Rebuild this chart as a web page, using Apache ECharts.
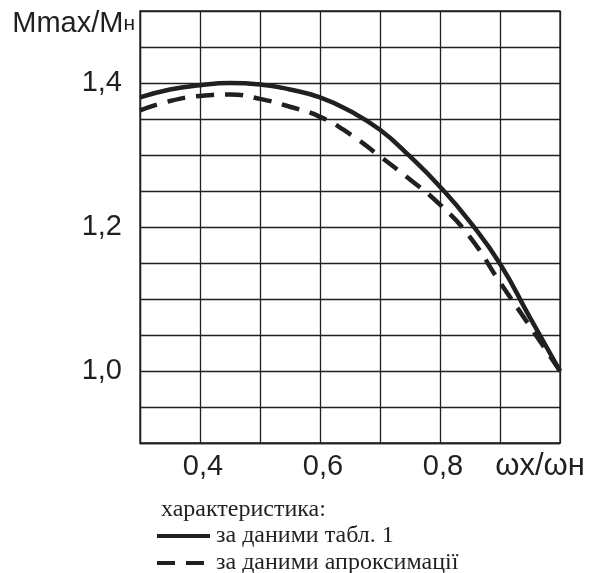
<!DOCTYPE html>
<html>
<head>
<meta charset="utf-8">
<script src="https://cdn.jsdelivr.net/npm/echarts@6/dist/echarts.min.js"></script>
<style>
  html, body { margin: 0; padding: 0; background: #fff; }
  #chart { width: 592px; height: 573px; }
</style>
</head>
<body>
<div id="chart"></div>
<script>
// значення
var xValues = [0.30, 0.35, 0.40, 0.45, 0.50, 0.55, 0.60, 0.65, 0.70, 0.75, 0.80, 0.85, 0.90, 0.95, 1.00];
var tableValues = [1.380, 1.391, 1.397, 1.400, 1.398, 1.391, 1.380, 1.361, 1.335, 1.298, 1.256, 1.207, 1.149, 1.074, 1.000];
var approxValues = [1.362, 1.375, 1.382, 1.384, 1.378, 1.367, 1.353, 1.329, 1.298, 1.266, 1.231, 1.186, 1.123, 1.062, 1.000];
var xTickLabels = [0.4, 0.6, 0.8];
var yTickLabels = [1.0, 1.2, 1.4];
var seriesNames = ['за даними табл. 1', 'за даними апроксимації'];
var legendTitle = 'характеристика:';

var ink = '#231f20';
var sans = '"Liberation Sans", Arial, sans-serif';
var serif = '"Liberation Serif", "Times New Roman", serif';

function pairs(ys) {
    var res = [];
    for (var i = 0; i < xValues.length; i++) res.push([xValues[i], ys[i]]);
    return res;
}

function tick_formatter(list) {
    // показуємо тільки потрібні підписи, з комою
    return function (v) {
        for (var i = 0; i < list.length; i++) {
            if (Math.abs(list[i] - v) < 1e-6) return list[i].toFixed(1).replace('.', ',');
        }
        return '';
    };
}

var gridLine = { show: true, lineStyle: { color: ink, width: 1.3 } };

var option = {
    backgroundColor: '#fff',
    animation: false,
    title: {
        text: legendTitle,
        left: 161,
        top: 498,
        padding: 0,
        textStyle: { fontFamily: serif, fontSize: 24, fontWeight: 'normal', color: ink }
    },
    legend: {
        orient: 'vertical',
        left: 155,
        top: 524,
        height: 60,
        padding: 0,
        itemWidth: 53,
        itemHeight: 18,
        itemGap: 3,
        data: seriesNames,
        itemStyle: { opacity: 0 },
        lineStyle: { width: 4 },
        textStyle: { fontFamily: serif, fontSize: 24, lineHeight: 22, color: ink, padding: [0, 0, 0, 1] }
    },
    grid: {
        left: 140, right: 32, top: 11, bottom: 130,
        show: true, borderColor: ink, borderWidth: 1.3
    },
    xAxis: {
        type: 'value',
        min: 0.3, max: 1.0, interval: 0.1,
        name: 'ωx/ωн',
        nameLocation: 'end',
        nameGap: -20,
        nameTextStyle: { fontFamily: sans, fontSize: 31, color: ink, align: 'center', verticalAlign: 'top', padding: [8, 0, 0, 0] },
        axisLine: { onZero: false, lineStyle: { color: ink, width: 1.3 } },
        axisTick: { show: false },
        splitLine: gridLine,
        axisLabel: { formatter: tick_formatter(xTickLabels), fontFamily: sans, fontSize: 29, color: ink, margin: 9, padding: [0, 0, 0, 6] }
    },
    yAxis: {
        type: 'value',
        min: 0.9, max: 1.5, interval: 0.05,
        name: 'Mmax/M{s|н}',
        nameLocation: 'end',
        nameGap: -13,
        nameTextStyle: {
            fontFamily: sans, fontSize: 29, color: ink, align: 'right', verticalAlign: 'middle',
            padding: [0, 5, 0, 0],
            rich: { s: { fontFamily: sans, fontSize: 21, color: ink } }
        },
        axisLine: { lineStyle: { color: ink, width: 1.3 } },
        axisTick: { show: false },
        splitLine: gridLine,
        axisLabel: { formatter: tick_formatter(yTickLabels), fontFamily: sans, fontSize: 29, color: ink, margin: 18 }
    },
    series: [
        {
            name: seriesNames[0],
            type: 'line',
            data: pairs(tableValues),
            smooth: true,
            symbol: 'none',
            lineStyle: { color: ink, width: 4.5, type: 'solid' },
            itemStyle: { color: ink }
        },
        {
            name: seriesNames[1],
            type: 'line',
            data: pairs(approxValues),
            smooth: true,
            symbol: 'none',
            lineStyle: { color: ink, width: 4.5, type: [18, 11], cap: 'butt' },
            itemStyle: { color: ink }
        }
    ]
};

var chart = echarts.init(document.getElementById('chart'));
chart.setOption(option);
</script>
</body>
</html>
